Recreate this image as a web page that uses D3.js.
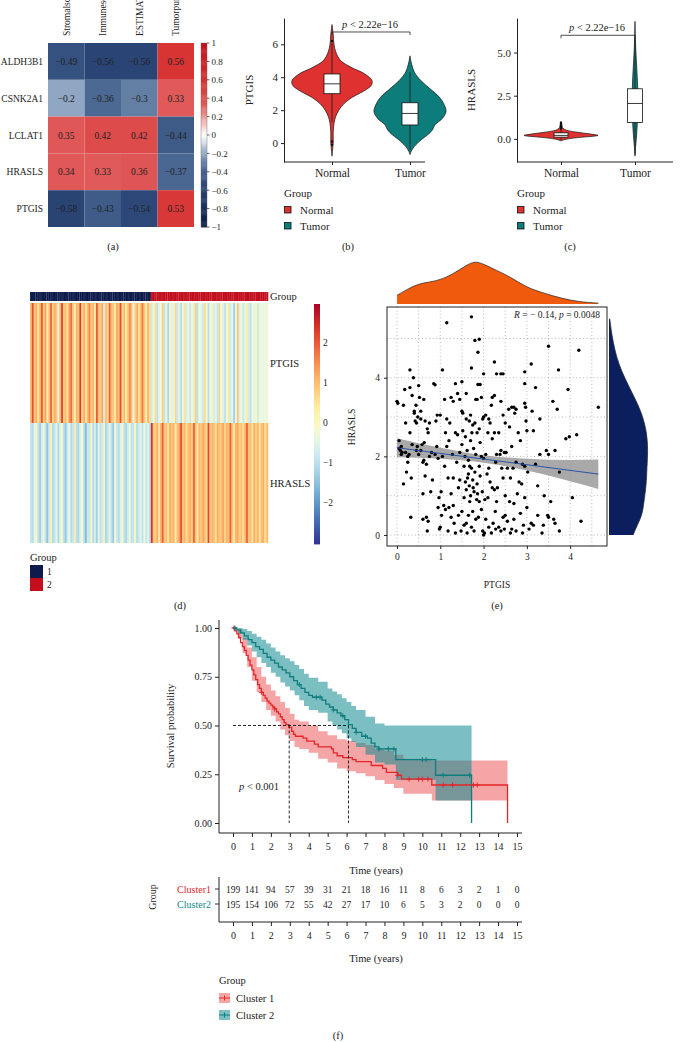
<!DOCTYPE html>
<meta charset="utf-8">
<style>
body { margin: 0; background: #fff; }
svg { display: block; font-family: "Liberation Serif", "DejaVu Serif", serif; }
text { fill: #222; }
</style>
<body>
<script src="https://d3js.org/d3.v7.min.js"></script>
<script>

// ---------------- data ----------------
// (a) correlation heatmap
var corrRows = ["ALDH3B1", "CSNK2A1", "LCLAT1", "HRASLS", "PTGIS"];
var corrCols = ["Stromalscore", "Immunescore", "ESTIMATEscore", "Tumorpurity"];
var corrVals = [
  [-0.49, -0.56, -0.56, 0.56],
  [-0.2, -0.36, -0.3, 0.33],
  [0.35, 0.42, 0.42, -0.44],
  [0.34, 0.33, 0.36, -0.37],
  [-0.58, -0.43, -0.54, 0.53]
];
var corrTicks = [1, 0.8, 0.6, 0.4, 0.2, 0, -0.2, -0.4, -0.6, -0.8, -1];

// (b), (c) violins: [value, relative half width]
var groups = ["Normal", "Tumor"];
var ptgisNormalViolin = [[7.2,0],[6.6,0.03],[6.0,0.05],[5.5,0.1],[5.0,0.22],[4.6,0.48],[4.2,0.82],[3.8,1.0],[3.5,0.98],[3.2,0.82],[2.8,0.52],[2.4,0.3],[2.0,0.17],[1.6,0.09],[1.2,0.05],[0.6,0.03],[0.0,0.03],[-0.5,0.01],[-0.8,0]];
var ptgisTumorViolin = [[5.3,0],[4.8,0.04],[4.3,0.11],[3.8,0.27],[3.3,0.5],[2.8,0.73],[2.3,0.86],[1.9,0.9],[1.5,0.81],[1.1,0.62],[0.8,0.56],[0.5,0.44],[0.2,0.28],[-0.2,0.11],[-0.5,0.03],[-0.7,0]];
// whisker low, q1, median, q3, whisker high
var ptgisBoxes = [[1.3, 3.0, 3.6, 4.2, 6.1], [-0.4, 1.1, 1.8, 2.45, 4.3]];
var ptgisOutliers = [[0, 6.2], [0, 0.1], [0, -0.1]];
var ptgisTicks = [0, 2, 4, 6];

var hraslsNormalViolin = [[1.0,0],[0.85,0.02],[0.65,0.04],[0.5,0.15],[0.38,0.45],[0.28,0.8],[0.2,1.0],[0.12,0.7],[0.05,0.35],[-0.05,0.08],[-0.12,0]];
var hraslsTumorViolin = [[6.8,0],[6.0,0.008],[5.2,0.02],[4.4,0.04],[3.6,0.06],[2.8,0.075],[2.0,0.08],[1.3,0.07],[0.6,0.055],[0,0.035],[-0.5,0.015],[-1.0,0]];
var hraslsBoxes = [[-0.05, 0.1, 0.2, 0.35, 0.55], [-0.9, 0.95, 2.05, 2.9, 5.8]];
var hraslsOutliers = [[0,0.6],[0,0.65],[0,0.72],[0,0.8],[0,0.86],[0,0.93]];
var hraslsTicks = [0, 2.5, 5];

// (d) expression heatmap, z-scores per sample
var ptgisC1 = [1.0,2.1,0.9,1.2,0.4,1.1,2.0,0.8,1.3,0.3,1.0,1.9,0.7,1.2,0.9,-0.5,1.1,2.2,0.8,1.0,0.5,1.4,1.8,0.9,0.2,1.1,1.0,2.3,0.7,1.2,0.4,1.0,1.6,0.9,1.1,0.3,2.0,1.0,0.8,1.3,-0.7,1.0,0.6,1.9,1.1,0.9,0.4,1.2,1.0,2.1,0.7,1.1,0.3,0.9,1.5,1.0,-0.4,0.8,1.2,0.5,1.0,1.7,0.9,0.3,1.1,0.6];
var ptgisC2 = [-0.8,-0.3,0.6,-1.0,-0.5,-0.2,0.8,-0.9,-0.4,-1.2,0.1,-0.6,-0.3,0.7,-0.9,-0.5,-1.1,-0.2,0.5,-0.7,-0.4,-0.9,0.0,-0.6,0.8,-1.0,-0.3,-0.5,-0.8,0.6,-0.2,-1.1,-0.4,0.2,-0.7,-0.5,-0.9,0.7,-0.3,-0.6,-1.0,-0.2,0.4,-0.8,-0.5,-1.3,-0.3,0.9,-0.6,-0.2,-0.9,-0.4,0.3,-0.7,-1.0,-0.3,-0.5,0.1,-0.8,-0.4,-0.3,-0.4,-0.3,-0.3];
var hraslsC1 = [-0.9,-1.1,-0.5,0.1,-1.0,-1.3,-0.7,-0.2,-1.0,-1.5,-0.8,0.2,-1.1,-0.9,-0.4,-1.2,-0.6,0.0,-1.0,-1.4,-0.8,-0.3,-1.1,-0.9,0.3,-1.0,-1.2,-0.6,-0.1,-1.0,-1.6,-0.8,-0.9,0.1,-1.1,-0.7,-1.3,-0.4,-1.0,-0.8,0.2,-1.2,-0.9,-0.5,-1.0,-1.4,-0.2,-0.8,-1.1,-0.6,0.0,-1.0,-1.2,-0.7,-0.3,-1.0,-0.9,0.1,-1.1,-0.8,-0.5,-1.0,-0.2,-0.9,-0.6,-1.0];
var hraslsC2 = [2.4,1.0,0.8,1.2,0.4,1.1,1.9,0.9,1.0,0.5,1.2,0.9,1.1,0.3,1.0,1.3,2.1,0.9,1.1,0.6,1.0,1.2,0.8,1.9,1.0,0.4,1.1,0.9,1.2,1.0,0.6,2.2,0.9,1.1,1.0,0.5,1.2,0.9,1.0,1.3,0.7,1.1,1.0,2.0,0.9,0.4,1.1,1.2,0.8,1.0,0.6,1.1,1.9,0.9,1.0,0.5,1.2,0.8,1.1,0.4,1.0,1.2,0.6,1.0];
var heatTicks = [2, 1, 0, -1, -2];

// (e) scatter PTGIS vs HRASLS
var scatterPts = [
[0,3.4],[0.02,3.35],[0.05,2.4],[0.05,2.2],[0.08,2.15],[0.1,2.05],[0.12,2.1],[0.15,1.3],[0.15,3.3],[0.18,3.7],[0.2,2.85],[0.22,1.6],[0.25,1.85],[0.25,2.0],[0.28,2.05],[0.3,3.75],[0.3,2.6],[0.32,0.45],[0.33,1.45],[0.35,2.3],[0.35,3.55],[0.38,4.0],[0.4,3.15],[0.42,2.9],[0.44,3.3],[0.45,2.15],[0.47,2.25],[0.48,3.0],[0.5,3.8],[0.5,2.05],[0.1,2.25],[0.2,2.1],[0.3,4.2],[0.4,3.1],[0.45,2.85],
[0.52,3.5],[0.55,3.15],[0.55,2.95],[0.58,2.3],[0.6,1.85],[0.6,1.05],[0.62,3.45],[0.63,2.35],[0.65,2.9],[0.65,1.5],[0.68,0.45],[0.68,1.8],[0.7,2.7],[0.7,0.1],[0.72,2.6],[0.72,0.35],[0.75,2.0],[0.78,1.1],[0.8,2.1],[0.82,1.4],[0.85,3.85],[0.88,3.82],[0.9,2.9],[0.92,2.25],[0.93,3.05],[0.95,1.95],[0.95,0.7],[0.97,0.95],[0.98,0.15],[1.0,0.2],[0.55,2.15],[0.62,1.9],[0.75,2.85],[0.88,2.05],[0.6,0.4],
[1.0,3.05],[1.02,1.1],[1.03,0.5],[1.05,4.2],[1.05,2.0],[1.08,0.75],[1.1,3.45],[1.1,1.75],[1.12,0.65],[1.15,5.4],[1.15,2.95],[1.15,2.25],[1.18,1.45],[1.18,0.1],[1.2,2.4],[1.2,0.7],[1.22,2.85],[1.25,3.5],[1.25,1.05],[1.25,0.45],[1.28,2.05],[1.3,3.4],[1.3,1.45],[1.32,0.3],[1.35,3.85],[1.35,2.6],[1.35,0.05],[1.38,1.85],[1.4,3.6],[1.4,2.55],[1.42,1.2],[1.42,0.5],[1.45,3.45],[1.45,1.4],[1.48,0.1],[1.5,3.9],[1.5,3.15],[1.5,2.3],[1.5,0.6],[1.12,2.6],[1.3,0.75],[1.45,2.1],
[1.52,3.1],[1.52,2.65],[1.55,1.75],[1.55,0.95],[1.55,0.25],[1.58,2.5],[1.58,1.35],[1.6,3.6],[1.6,2.95],[1.6,1.15],[1.62,0.05],[1.62,2.15],[1.65,1.9],[1.65,1.55],[1.65,0.5],[1.67,2.9],[1.67,1.25],[1.68,0.85],[1.7,3.05],[1.7,2.4],[1.7,1.0],[1.72,5.55],[1.72,4.25],[1.72,1.7],[1.72,0.2],[1.75,2.8],[1.75,1.4],[1.75,0.6],[1.77,2.2],[1.78,1.1],[1.78,0.1],[1.8,4.95],[1.8,2.85],[1.8,1.6],[1.82,3.45],[1.82,2.05],[1.82,0.4],[1.85,3.45],[1.85,2.6],[1.85,1.3],[1.87,4.65],[1.87,3.83],[1.88,0.45],[1.9,4.98],[1.9,2.7],[1.9,1.75],[1.9,0.85],[1.92,3.83],[1.92,2.35],[1.92,1.5],[1.95,3.5],[1.95,2.0],[1.95,0.65],[1.97,1.1],[1.98,2.95],[1.98,0.1],[2.0,4.1],[2.0,3.0],[2.0,1.95],[2.0,0.0],[1.57,2.0],[1.63,1.45],[1.73,2.6],[1.76,1.2],[1.68,1.75],[1.84,0.9],[1.6,0.3],[1.86,1.05],
[2.02,0.05],[2.03,0.9],[2.05,3.05],[2.05,2.05],[2.05,0.4],[2.08,1.55],[2.1,2.6],[2.1,0.95],[2.12,1.7],[2.12,0.2],[2.15,2.85],[2.15,1.35],[2.18,3.3],[2.18,0.05],[2.2,3.5],[2.2,2.45],[2.2,1.2],[2.22,0.3],[2.25,4.4],[2.25,3.55],[2.25,2.6],[2.25,1.15],[2.28,1.85],[2.28,0.15],[2.3,4.1],[2.3,2.05],[2.3,0.85],[2.32,1.2],[2.35,0.2],[2.38,2.05],[2.4,4.1],[2.4,3.4],[2.4,2.15],[2.4,0.1],[2.42,1.7],[2.45,4.1],[2.45,3.05],[2.45,1.45],[2.45,0.45],[2.48,2.1],[2.48,0.15],[2.5,2.85],[2.5,1.0],[2.5,0.5],[2.35,2.6],[2.27,0.6],[2.12,2.95],
[2.52,2.1],[2.55,0.35],[2.55,1.7],[2.58,3.2],[2.6,2.75],[2.6,0.85],[2.62,0.05],[2.62,1.45],[2.65,3.25],[2.65,2.25],[2.65,0.15],[2.68,1.7],[2.7,3.25],[2.7,0.8],[2.7,0.4],[2.72,3.1],[2.75,3.2],[2.75,1.85],[2.75,0.1],[2.8,2.6],[2.82,1.35],[2.85,0.55],[2.88,1.3],[2.9,1.8],[2.9,0.05],[2.92,0.25],[2.95,4.15],[2.95,3.85],[2.95,3.35],[2.95,1.75],[2.95,0.95],[2.97,3.25],[2.98,2.9],[3.0,2.65],[3.0,0.7],[2.85,2.4],[2.78,1.05],
[3.02,1.6],[3.05,0.15],[3.1,4.35],[3.12,3.15],[3.15,2.65],[3.15,0.25],[3.2,3.75],[3.2,1.8],[3.25,1.25],[3.25,0.5],[3.3,2.95],[3.3,2.05],[3.35,0.05],[3.38,0.25],[3.4,1.0],[3.45,2.15],[3.48,0.5],[3.5,4.8],[3.5,2.05],[3.5,0.45],[3.1,0.3],
[3.55,0.85],[3.6,3.4],[3.62,0.4],[3.65,2.15],[3.65,0.3],[3.7,3.2],[3.73,4.2],[3.75,1.6],[3.75,0.1],[3.9,2.45],[3.95,3.7],[3.98,2.5],[4.05,0.95],[4.15,2.55],[4.2,4.7],[4.25,0.35],[4.65,3.25]
];
var fitLine = [[0, 2.22], [4.65, 1.55]];
// x, lower, upper of the 95% band
var fitBand = [[0,1.98,2.46],[1,1.94,2.22],[2,1.84,2.03],[3,1.64,1.94],[4,1.37,1.91],[4.65,1.17,1.92]];
var ptgisDensity = [[0,0.2],[0.25,0.35],[0.5,0.47],[0.75,0.51],[1.0,0.56],[1.3,0.7],[1.6,0.9],[1.8,1.0],[2.0,0.93],[2.3,0.78],[2.6,0.64],[3.0,0.38],[3.4,0.25],[3.8,0.13],[4.2,0.05],[4.65,0.02]];
var hraslsDensity = [[0,0.62],[0.2,0.7],[0.5,0.85],[0.8,0.89],[1.3,0.96],[1.7,0.97],[2.15,1.0],[2.6,0.97],[3.0,0.87],[3.3,0.75],[3.6,0.6],[4.0,0.4],[4.35,0.25],[4.7,0.15],[5.1,0.07],[5.5,0.02]];

// (f) Kaplan-Meier
var cluster1Steps = [[0,1],[0.1,0.985],[0.2,0.97],[0.3,0.95],[0.4,0.925],[0.5,0.905],[0.6,0.885],[0.7,0.86],[0.8,0.835],[0.9,0.81],[1.0,0.785],[1.1,0.76],[1.2,0.735],[1.3,0.71],[1.4,0.69],[1.5,0.67],[1.6,0.655],[1.7,0.64],[1.8,0.625],[1.9,0.615],[2.0,0.605],[2.1,0.595],[2.2,0.585],[2.3,0.57],[2.4,0.56],[2.5,0.545],[2.6,0.53],[2.7,0.515],[2.8,0.505],[2.95,0.49],[3.1,0.47],[3.2,0.455],[3.3,0.445],[3.7,0.435],[3.9,0.42],[4.3,0.405],[4.5,0.39],[5.2,0.38],[5.3,0.36],[5.5,0.345],[5.8,0.335],[6.3,0.325],[6.5,0.315],[7.3,0.295],[7.9,0.28],[8.1,0.26],[8.7,0.245],[8.9,0.225],[10.5,0.195],[14.5,0]];
var cluster2Steps = [[0,1],[0.2,0.99],[0.4,0.975],[0.6,0.96],[0.8,0.94],[1.0,0.925],[1.2,0.905],[1.4,0.89],[1.6,0.87],[1.8,0.85],[2.0,0.835],[2.2,0.82],[2.4,0.8],[2.6,0.785],[2.8,0.77],[3.0,0.75],[3.2,0.73],[3.4,0.71],[3.6,0.69],[3.8,0.67],[4.0,0.655],[4.2,0.645],[4.7,0.63],[4.9,0.61],[5.1,0.595],[5.3,0.58],[5.5,0.565],[5.7,0.55],[5.9,0.53],[6.1,0.505],[6.3,0.485],[6.5,0.465],[6.8,0.445],[7.1,0.435],[7.3,0.41],[7.5,0.39],[7.7,0.38],[8.6,0.325],[10.7,0.245],[12.6,0]];
// time, lower, upper
var cluster1Band = [[0,1,1],[0.25,0.95,0.99],[0.5,0.87,0.95],[0.75,0.8,0.9],[1,0.73,0.85],[1.25,0.67,0.8],[1.5,0.62,0.75],[1.75,0.58,0.71],[2,0.55,0.68],[2.25,0.52,0.65],[2.5,0.48,0.62],[2.75,0.45,0.59],[3,0.42,0.56],[3.25,0.39,0.53],[3.5,0.38,0.52],[4,0.36,0.5],[4.5,0.33,0.47],[5,0.31,0.45],[5.5,0.28,0.43],[6,0.265,0.42],[6.5,0.255,0.41],[7,0.24,0.4],[7.5,0.22,0.38],[8,0.2,0.37],[8.5,0.18,0.35],[9,0.15,0.33],[10.5,0.115,0.32],[14.5,0.115,0.32]];
var cluster2Band = [[0,1,1],[0.25,0.97,1.0],[0.5,0.94,0.995],[0.75,0.91,0.985],[1,0.88,0.97],[1.25,0.85,0.955],[1.5,0.82,0.94],[1.75,0.8,0.92],[2,0.77,0.9],[2.25,0.75,0.88],[2.5,0.72,0.86],[2.75,0.7,0.845],[3,0.68,0.83],[3.25,0.655,0.81],[3.5,0.63,0.79],[3.75,0.6,0.765],[4,0.58,0.745],[4.5,0.565,0.725],[5,0.52,0.69],[5.25,0.5,0.675],[5.5,0.48,0.66],[5.75,0.46,0.64],[6,0.435,0.62],[6.25,0.415,0.6],[6.5,0.39,0.58],[7,0.35,0.545],[7.5,0.31,0.51],[8,0.3,0.5],[8.6,0.22,0.5],[10.7,0.115,0.5],[12.6,0.115,0.5]];
var cluster1Censor = [0.05, 1.5, 2.2, 8.7, 9.3, 9.8, 10.0, 10.3, 11.1, 11.6, 12.7, 12.9];
var cluster2Censor = [0.1, 3.5, 4.4, 4.6, 5.3, 5.8, 6.5, 7.0, 7.7, 8.2, 8.5, 10.0, 10.2, 11.1, 12.5];
var medianTimes = [2.97, 6.1];
var yearTicks = d3.range(0, 16);
var survTicks = [0, 0.25, 0.5, 0.75, 1];
var atRisk1 = [199,141,94,57,39,31,21,18,16,11,8,6,3,2,1,0];
var atRisk2 = [195,154,106,72,55,42,27,17,10,6,5,3,2,0,0,0];

// ---------------- drawing ----------------
var width = 680, height = 1042;
var RED = "#e03131", TEAL = "#0d7d7b";
var svg = d3.select("body").append("svg").attr("width", width).attr("height", height);
svg.append("rect").attr("width", width).attr("height", height).attr("fill", "#fff");

function fmt(v) { return String(v).replace("-", "\u2212"); }
function txt(g, x, y, s, size, anchor) {
  return g.append("text").attr("x", x).attr("y", y).attr("font-size", size)
    .attr("text-anchor", anchor || "start").text(s);
}
function line(g, x1, y1, x2, y2, w) {
  return g.append("line").attr("x1", x1).attr("y1", y1).attr("x2", x2).attr("y2", y2)
    .attr("stroke", "#222").attr("stroke-width", w || 1);
}
function styleAxis(g, size) {
  g.attr("font-family", null).attr("font-size", size);
  g.selectAll(".tick line").attr("stroke", "#222");
  g.selectAll(".domain").attr("stroke", "#222");
}

// ---- (a) ----
(function () {
  var g = svg.append("g");
  var x = d3.scaleBand().domain(corrCols).range([48, 194]);
  var y = d3.scaleBand().domain(corrRows).range([43, 227]);
  var col = d3.scaleLinear()
    .domain([-1, -0.55, -0.35, -0.2, 0, 0.33, 0.55, 1])
    .range(["#0a1a40", "#2b4676", "#4d6b95", "#8fa7c2", "#ffffff", "#e05a5a", "#d83535", "#c40f1c"]);
  corrRows.forEach(function (r, i) {
    corrCols.forEach(function (c, j) {
      var v = corrVals[i][j];
      g.append("rect").attr("x", x(c)).attr("y", y(r))
        .attr("width", x.bandwidth()).attr("height", y.bandwidth()).attr("fill", col(v));
      txt(g, x(c) + x.bandwidth() / 2, y(r) + y.bandwidth() / 2 + 3.5, fmt(v), 9.5, "middle");
    });
    txt(g, 43, y(r) + y.bandwidth() / 2 + 3.5, r, 9.5, "end");
  });
  corrCols.forEach(function (c) {
    g.append("text").attr("font-size", 9.5)
      .attr("transform", "translate(" + (x(c) + x.bandwidth() / 2 + 3.5) + ",36) rotate(-90)")
      .text(c);
  });
  // colour bar
  var cb = d3.scaleLinear().domain([1, -1]).range([43, 227]);
  d3.range(-1, 1, 0.01).forEach(function (v) {
    g.append("rect").attr("x", 201).attr("y", cb(v + 0.01)).attr("width", 6)
      .attr("height", cb(v) - cb(v + 0.01) + 0.4).attr("fill", col(v + 0.005));
  });
  g.append("rect").attr("x", 201).attr("y", 43).attr("width", 6).attr("height", 184)
    .attr("fill", "none").attr("stroke", "#666").attr("stroke-width", 0.4);
  corrTicks.forEach(function (t) {
    line(g, 207, cb(t), 209.5, cb(t), 0.7);
    txt(g, 211.5, cb(t) + 3.3, fmt(t), 9, "start");
  });
  txt(g, 113, 250, "(a)", 10.5, "middle");
})();

// ---- (b) and (c) violin panels ----
function violinPanel(opt) {
  var g = svg.append("g");
  var y = d3.scaleLinear().domain(opt.yDomain).range([162, 18]);
  var x = d3.scalePoint().domain(groups).range(opt.xPos);
  var w = d3.scaleLinear().domain([0, 1]).range([0, opt.maxHalf]);
  var fills = [RED, TEAL];
  var area = function (cx) {
    return d3.area().curve(d3.curveCatmullRom)
      .y(function (d) { return y(d[0]); })
      .x0(function (d) { return cx - w(d[1]); })
      .x1(function (d) { return cx + w(d[1]); });
  };
  opt.violins.forEach(function (v, i) {
    g.append("path").datum(v).attr("d", area(x(groups[i])))
      .attr("fill", fills[i]).attr("stroke", "#111").attr("stroke-width", 0.7);
  });
  opt.boxes.forEach(function (b, i) {
    var cx = x(groups[i]), bw = opt.boxW[i];
    line(g, cx, y(b[0]), cx, y(b[1]), 0.9);
    line(g, cx, y(b[3]), cx, y(b[4]), 0.9);
    g.append("rect").attr("x", cx - bw / 2).attr("y", y(b[3])).attr("width", bw)
      .attr("height", y(b[1]) - y(b[3])).attr("fill", "#fff").attr("stroke", "#111").attr("stroke-width", 0.8);
    line(g, cx - bw / 2, y(b[2]), cx + bw / 2, y(b[2]), 0.9);
  });
  opt.outliers.forEach(function (o) {
    g.append("circle").attr("cx", x(groups[o[0]])).attr("cy", y(o[1])).attr("r", 1.2).attr("fill", "#111");
  });
  // axes
  var ya = g.append("g").attr("transform", "translate(" + opt.axisX + ",0)")
    .call(d3.axisLeft(y).tickValues(opt.ticks).tickSize(3).tickSizeOuter(0).tickPadding(3)
      .tickFormat(opt.tickFmt));
  styleAxis(ya, 11);
  var xa = g.append("g").attr("transform", "translate(0,162)")
    .call(d3.axisBottom(x).tickSize(3).tickPadding(4));
  styleAxis(xa, 11.5);
  xa.select(".domain").remove();
  line(g, opt.axisX, 162, opt.axisEnd, 162, 1);
  g.append("text").attr("font-size", 11).attr("text-anchor", "middle")
    .attr("transform", "translate(" + opt.labelX + ",90) rotate(-90)").text(opt.label);
  // significance bracket
  var by = y(opt.bracket);
  line(g, x("Normal"), by, x("Tumor"), by, 0.8);
  line(g, x("Normal"), by, x("Normal"), by + 3, 0.8);
  line(g, x("Tumor"), by, x("Tumor"), by + 3, 0.8);
  var pt = g.append("text").attr("x", (x("Normal") + x("Tumor")) / 2 - 1).attr("y", by - 4)
    .attr("font-size", 10.5).attr("text-anchor", "middle");
  pt.append("tspan").attr("font-style", "italic").text("p");
  pt.append("tspan").text(" < 2.22e\u221216");
  // legend
  txt(g, opt.axisX, 197, "Group", 11);
  groups.forEach(function (gr, i) {
    g.append("rect").attr("x", opt.axisX + 0.5).attr("y", 206.5 + i * 16).attr("width", 6.5).attr("height", 6.5)
      .attr("fill", fills[i]).attr("stroke", "#111").attr("stroke-width", 0.8);
    txt(g, opt.axisX + 16, 213.5 + i * 16, gr, 11);
  });
  txt(g, opt.capX, 250, opt.cap, 10.5, "middle");
}

violinPanel({
  yDomain: [-1.15, 7.6], xPos: [332, 410], maxHalf: 40, axisX: 284, axisEnd: 425,
  violins: [ptgisNormalViolin, ptgisTumorViolin], boxes: ptgisBoxes, boxW: [16, 16],
  outliers: ptgisOutliers, ticks: ptgisTicks, tickFmt: d3.format("d"),
  label: "PTGIS", labelX: 253, bracket: 6.75, capX: 348, cap: "(b)"
});
violinPanel({
  yDomain: [-1.34, 7.0], xPos: [561, 635], maxHalf: 37, axisX: 517, axisEnd: 673,
  violins: [hraslsNormalViolin, hraslsTumorViolin], boxes: hraslsBoxes, boxW: [14, 15],
  outliers: hraslsOutliers, ticks: hraslsTicks, tickFmt: d3.format(".1f"),
  label: "HRASLS", labelX: 475, bracket: 6.0, capX: 570, cap: "(c)"
});

// ---- (d) ----
(function () {
  var g = svg.append("g");
  var ptgis = ptgisC1.concat(ptgisC2), hrasls = hraslsC1.concat(hraslsC2);
  var grp = ptgisC1.map(function () { return 1; }).concat(ptgisC2.map(function () { return 2; }));
  var x = d3.scaleBand().domain(d3.range(ptgis.length)).range([30, 268]);
  var col = d3.scaleSequential(function (t) { return d3.interpolateRdYlBu(1 - t); }).domain([-3, 3]);
  var gcol = { 1: "#0d1b4c", 2: "#c20e1d" };
  grp.forEach(function (v, i) {
    g.append("rect").attr("x", x(i)).attr("y", 292).attr("width", x.bandwidth() + 0.3).attr("height", 9)
      .attr("fill", gcol[v]);
    g.append("rect").attr("x", x(i)).attr("y", 303).attr("width", x.bandwidth() + 0.3).attr("height", 120)
      .attr("fill", col(ptgis[i]));
    g.append("rect").attr("x", x(i)).attr("y", 423).attr("width", x.bandwidth() + 0.3).attr("height", 120)
      .attr("fill", col(hrasls[i]));
  });
  // faint cell borders in group bar
  grp.forEach(function (v, i) {
    if (i % 3 === 0) g.append("line").attr("x1", x(i)).attr("x2", x(i)).attr("y1", 292).attr("y2", 301)
      .attr("stroke", "#fff").attr("stroke-opacity", 0.25).attr("stroke-width", 0.5);
  });
  txt(g, 270, 300, "Group", 10.5);
  txt(g, 270, 367, "PTGIS", 10.5);
  txt(g, 270, 487, "HRASLS", 10.5);
  var cb = d3.scaleLinear().domain([2.95, -3.05]).range([304, 544]);
  d3.range(-3.05, 2.95, 0.05).forEach(function (v) {
    g.append("rect").attr("x", 314).attr("y", cb(v + 0.05)).attr("width", 6)
      .attr("height", cb(v) - cb(v + 0.05) + 0.4).attr("fill", col(v + 0.025));
  });
  heatTicks.forEach(function (t) {
    txt(g, 323, cb(t) + 3.5, fmt(t), 9.5);
  });
  txt(g, 30, 561, "Group", 10.5);
  [1, 2].forEach(function (v, i) {
    g.append("rect").attr("x", 30).attr("y", 565 + i * 13).attr("width", 13).attr("height", 13).attr("fill", gcol[v]);
    txt(g, 47, 575 + i * 13, String(v), 9.5);
  });
  txt(g, 180, 609, "(d)", 10.5, "middle");
})();

// ---- (e) ----
(function () {
  var g = svg.append("g");
  var x = d3.scaleLinear().domain([-0.23, 4.85]).range([387, 607]);
  var y = d3.scaleLinear().domain([-0.28, 5.8]).range([546, 307]);
  // grid
  d3.range(0, 4.75, 0.5).forEach(function (v) {
    g.append("line").attr("x1", x(v)).attr("x2", x(v)).attr("y1", 307).attr("y2", 546)
      .attr("stroke", "#999").attr("stroke-width", 0.7).attr("stroke-dasharray", "1,2.5");
  });
  d3.range(0, 6, 1).forEach(function (v) {
    g.append("line").attr("x1", 387).attr("x2", 607).attr("y1", y(v)).attr("y2", y(v))
      .attr("stroke", "#999").attr("stroke-width", 0.7).attr("stroke-dasharray", "1,2.5");
  });
  // band + fit
  g.append("path").datum(fitBand)
    .attr("d", d3.area().x(function (d) { return x(d[0]); })
      .y0(function (d) { return y(d[1]); }).y1(function (d) { return y(d[2]); }).curve(d3.curveMonotoneX))
    .attr("fill", "#9a9a9a").attr("fill-opacity", 0.85);
  g.selectAll(".pt").data(scatterPts).enter().append("circle")
    .attr("cx", function (d) { return x(d[0]); }).attr("cy", function (d) { return y(d[1]); })
    .attr("r", 1.7).attr("fill", "#000");
  g.append("path").datum(fitLine)
    .attr("d", d3.line().x(function (d) { return x(d[0]); }).y(function (d) { return y(d[1]); }))
    .attr("stroke", "#2a55a8").attr("stroke-width", 1).attr("fill", "none");
  g.append("rect").attr("x", 387).attr("y", 307).attr("width", 220).attr("height", 239)
    .attr("fill", "none").attr("stroke", "#222").attr("stroke-width", 1);
  var xa = g.append("g").attr("transform", "translate(0,546)")
    .call(d3.axisBottom(x).tickValues([0, 1, 2, 3, 4]).tickFormat(d3.format("d"))
      .tickSize(3).tickSizeOuter(0).tickPadding(4));
  styleAxis(xa, 9.5);
  xa.select(".domain").remove();
  var ya = g.append("g").attr("transform", "translate(387,0)")
    .call(d3.axisLeft(y).tickValues([0, 2, 4]).tickFormat(d3.format("d"))
      .tickSize(3).tickSizeOuter(0).tickPadding(4));
  styleAxis(ya, 9.5);
  ya.select(".domain").remove();
  txt(g, 497, 588, "PTGIS", 9.5, "middle");
  g.append("text").attr("font-size", 9.5).attr("text-anchor", "middle")
    .attr("transform", "translate(355,427) rotate(-90)").text("HRASLS");
  var ann = g.append("text").attr("x", 600).attr("y", 318).attr("font-size", 9.5).attr("text-anchor", "end");
  ann.append("tspan").attr("font-style", "italic").text("R");
  ann.append("tspan").text(" = \u2212 0.14, ");
  ann.append("tspan").attr("font-style", "italic").text("p");
  ann.append("tspan").text(" = 0.0048");
  // marginal densities
  var top = d3.scaleLinear().domain([0, 1]).range([304, 261]);
  g.append("path").datum(ptgisDensity)
    .attr("d", d3.area().curve(d3.curveBasis).x(function (d) { return x(d[0]); })
      .y0(304).y1(function (d) { return top(d[1]); }))
    .attr("fill", "#ef5a0c");
  g.append("path").datum(ptgisDensity)
    .attr("d", d3.line().curve(d3.curveBasis).x(function (d) { return x(d[0]); }).y(function (d) { return top(d[1]); }))
    .attr("fill", "none").attr("stroke", "#222").attr("stroke-width", 0.7);
  var side = d3.scaleLinear().domain([0, 1]).range([609, 648]);
  g.append("path").datum(hraslsDensity)
    .attr("d", d3.area().curve(d3.curveBasis).y(function (d) { return y(d[0]); })
      .x0(609).x1(function (d) { return side(d[1]); }))
    .attr("fill", "#0b1f5e");
  g.append("path").datum(hraslsDensity)
    .attr("d", d3.line().curve(d3.curveBasis).y(function (d) { return y(d[0]); }).x(function (d) { return side(d[1]); }))
    .attr("fill", "none").attr("stroke", "#222").attr("stroke-width", 0.7);
  txt(g, 497, 609, "(e)", 10.5, "middle");
})();

// ---- (f) ----
(function () {
  var g = svg.append("g");
  var x = d3.scaleLinear().domain([0, 15]).range([233, 517]);
  var y = d3.scaleLinear().domain([0, 1]).range([823, 628]);
  var band = d3.area().curve(d3.curveStepAfter).x(function (d) { return x(d[0]); })
    .y0(function (d) { return y(d[1]); }).y1(function (d) { return y(d[2]); });
  g.append("path").datum(cluster1Band).attr("d", band).attr("fill", "#e8383a").attr("fill-opacity", 0.45);
  g.append("path").datum(cluster2Band).attr("d", band).attr("fill", "#0e8a8f").attr("fill-opacity", 0.55);
  var step = d3.line().curve(d3.curveStepAfter).x(function (d) { return x(d[0]); }).y(function (d) { return y(d[1]); });
  g.append("path").datum(cluster1Steps).attr("d", step).attr("fill", "none").attr("stroke", "#e2262a").attr("stroke-width", 1.3);
  g.append("path").datum(cluster2Steps).attr("d", step).attr("fill", "none").attr("stroke", "#0f7d7d").attr("stroke-width", 1.3);
  function survAt(steps, t) {
    var s = 1;
    steps.forEach(function (d) { if (d[0] <= t) s = d[1]; });
    return s;
  }
  [[cluster1Censor, cluster1Steps, "#e2262a"], [cluster2Censor, cluster2Steps, "#0f7d7d"]].forEach(function (c) {
    c[0].forEach(function (t) {
      var cx = x(t), cy = y(survAt(c[1], t));
      g.append("path").attr("d", "M" + (cx - 2.5) + "," + cy + "h5M" + cx + "," + (cy - 2.5) + "v5")
        .attr("stroke", c[2]).attr("stroke-width", 1);
    });
  });
  // median lines
  g.append("path").attr("d", "M" + x(0) + "," + y(0.5) + "H" + x(medianTimes[1]))
    .attr("stroke", "#111").attr("stroke-dasharray", "3,2").attr("stroke-width", 0.9);
  medianTimes.forEach(function (t) {
    g.append("path").attr("d", "M" + x(t) + "," + y(0.5) + "V" + y(0))
      .attr("stroke", "#111").attr("stroke-dasharray", "3,2").attr("stroke-width", 0.9);
  });
  var pt = g.append("text").attr("x", 239).attr("y", 790).attr("font-size", 10.5);
  pt.append("tspan").attr("font-style", "italic").text("p");
  pt.append("tspan").text(" < 0.001");
  // axes
  var ya = g.append("g").attr("transform", "translate(219,0)")
    .call(d3.axisLeft(y).tickValues(survTicks).tickFormat(d3.format(".2f")).tickSize(4).tickSizeOuter(0).tickPadding(3));
  styleAxis(ya, 10);
  ya.select(".domain").remove();
  line(g, 219, 620, 219, 833, 1);
  var xa = g.append("g").attr("transform", "translate(0,833)")
    .call(d3.axisBottom(x).tickValues(yearTicks).tickSize(4).tickSizeOuter(0).tickPadding(6));
  styleAxis(xa, 10);
  xa.select(".domain").remove();
  line(g, 219, 833, 522, 833, 1);
  g.append("text").attr("font-size", 10.5).attr("text-anchor", "middle")
    .attr("transform", "translate(174,726) rotate(-90)").text("Survival probability");
  txt(g, 376, 874, "Time (years)", 10.5, "middle");

  // risk table
  var rows = [["Cluster1", atRisk1, "#e2262a", 889], ["Cluster2", atRisk2, "#0f8a8a", 904]];
  rows.forEach(function (r) {
    txt(g, 211, r[3] + 3.5, r[0], 10, "end").style("fill", r[2]);
    line(g, 215, r[3], 219, r[3], 0.9);
    r[1].forEach(function (n, i) { txt(g, x(i), r[3] + 3.5, String(n), 9.5, "middle"); });
  });
  line(g, 219, 877, 219, 922, 1);
  line(g, 219, 922, 522, 922, 1);
  var xb = g.append("g").attr("transform", "translate(0,922)")
    .call(d3.axisBottom(x).tickValues(yearTicks).tickSize(4).tickSizeOuter(0).tickPadding(6));
  styleAxis(xb, 10);
  xb.select(".domain").remove();
  txt(g, 376, 962, "Time (years)", 10.5, "middle");
  g.append("text").attr("font-size", 10).attr("text-anchor", "middle")
    .attr("transform", "translate(156,897) rotate(-90)").text("Group");

  // legend
  txt(g, 219, 984, "Group", 10.5);
  [["Cluster 1", "#e8383a", "#e2262a", 0.45], ["Cluster 2", "#0e8a8f", "#0f7d7d", 0.55]].forEach(function (d, i) {
    var yy = 993 + i * 17;
    g.append("rect").attr("x", 219).attr("y", yy).attr("width", 11).attr("height", 10)
      .attr("fill", d[1]).attr("fill-opacity", d[3]);
    g.append("path").attr("d", "M219," + (yy + 5) + "h11M224.5," + (yy + 2.5) + "v5")
      .attr("stroke", d[2]).attr("stroke-width", 1);
    txt(g, 236, yy + 8.5, d[0], 10.5);
  });
  txt(g, 338, 1039, "(f)", 10.5, "middle");
})();

</script>
